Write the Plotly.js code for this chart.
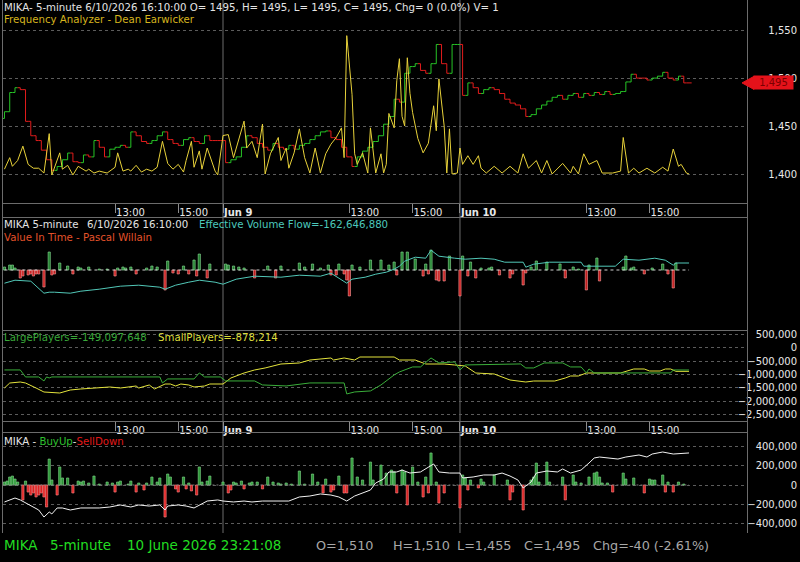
<!DOCTYPE html>
<html><head><meta charset="utf-8">
<script src="https://cdn.plot.ly/plotly-3.0.1.min.js"></script>
<style>html,body{margin:0;padding:0;background:#000;}#chart{width:800px;height:562px;}</style>
</head><body><div id="chart"></div>
<script>
// Time axis: bar index of 5-minute bars, 0 = Jun 9 09:00 (90 bars per session)
const tickIdx  = [-41, -17, 0, 48, 72, 90, 138, 162];
const tickText = ['13:00','15:00','<b>Jun 9</b>','13:00','15:00','<b>Jun 10</b>','13:00','15:00'];
const dayBreakIdx = [0, 90];

// Price closes, one value per 10 minutes starting at bar -83
const priceStartIdx = -83, priceStep = 2;
const priceClose = [1465,1485,1490,1488,1455,1440,1435,1425,1415,1404,
 1408,1415,1422,1413,1412,1420,1418,1435,1428,1418,
 1426,1428,1430,1428,1444,1440,1434,1432,1435,1440,
 1444,1436,1432,1430,1436,1438,1434,1432,1440,1435,
 1435,1435,1412,1415,1418,1428,1440,1438,1432,1428,
 1425,1432,1428,1426,1430,1426,1430,1432,1436,1440,
 1444,1445,1438,1436,1428,1418,1408,1418,1424,1428,
 1434,1440,1452,1460,1478,1475,1505,1512,1515,1508,
 1505,1515,1535,1515,1505,1535,1535,1482,1495,1490,
 1484,1488,1490,1488,1484,1478,1474,1472,1468,1460,
 1462,1468,1472,1476,1480,1482,1478,1482,1484,1480,
 1484,1482,1485,1483,1486,1483,1484,1486,1496,1504,
 1500,1500,1498,1500,1502,1506,1500,1498,1502,1495,
 1495];
const priceFirstOpen = 1458;
const lastPrice = 1495;

// Frequency Analyzer (Dean Earwicker)
const faIdx = [-83,-81,-80,-78,-76,-74,-72,-70,-68,-66,-65,-62,-61,-59,-57,-55,-52,-51,-49,-47,
 -44,-41,-40,-38,-36,-35,-33,-31,-29,-27,-25,-23,-21,-19,-17,-15,-14,-12,-11,-9,-8,-6,-3,-2,0,2,
 4,8,9,11,13,15,16,18,21,22,24,25,27,29,31,33,35,37,39,41,43,45,46,47,49,50,51,53,55,56,
 58,60,61,62,63,65,66,67,68,69,70,71,72,74,76,78,80,81,82,84,85,86,87,89,90,91,93,95,97,98,
 100,103,106,109,112,114,116,119,121,123,125,129,132,133,135,137,139,142,144,148,
 151,152,154,156,158,161,164,167,169,171,173,174,176,177];
const faVal = [6,18,9,15,30,11,7,7,2,43,0,23,6,10,0,9,4,6,2,4,
 2,8,23,4,6,4,10,3,6,4,8,35,12,6,11,3,15,35,8,25,6,28,4,0,41,42,
 18,56,28,35,18,53,1,22,39,15,28,7,23,48,18,2,28,2,22,32,39,49,18,145,84,22,11,23,2,49,
 2,22,2,11,64,49,98,121,61,51,122,85,65,38,23,33,72,46,100,51,2,48,1,2,28,11,20,11,20,7,
 2,9,2,9,2,22,7,15,2,15,1,12,2,9,1,22,11,15,2,2,
 4,39,2,7,2,7,2,8,4,27,9,11,2,1];

// Value In Time histogram (Pascal Willain)
const vitIdx = [-83,-81,-80,-79,-77,-76,-74,-73,-72,-71,-70,-68,-66,-65,-64,-62,-59,-57,-55,-54,
 -51,-47,-44,-41,-40,-38,-37,-35,-33,-29,-27,-25,-22,-21,-19,-17,-15,-13,-11,-10,
 -9,-6,-5,1,2,4,6,8,12,17,20,22,29,31,34,37,40,41,43,44,
 46,47,48,49,52,56,60,63,65,66,68,70,73,76,77,78,79,81,82,84,
 86,90,91,93,94,96,98,101,102,105,109,110,114,115,117,119,123,128,130,133,
 135,138,139,142,143,152,153,155,156,160,163,167,169,171,172];
const vitVal = [3,5,5,2,-8,-6,-5,-4,-6,-4,-4,-17,18,-5,-4,7,4,-4,3,2,
 3,1,1,-6,2,3,2,3,-4,2,4,3,-20,9,-3,-4,4,-4,10,-6,
 16,-8,6,6,5,4,3,2,-8,4,-8,4,7,3,6,2,5,-5,-5,6,
 -4,-10,-26,5,3,10,10,5,8,-5,18,18,11,-6,6,-4,20,-10,-11,-11,
 14,-26,14,-6,8,-8,2,2,3,-5,-8,-4,-15,-3,3,9,8,6,-8,3,
 1,-20,5,12,-11,3,14,2,3,-4,2,6,-4,-18,7];

// Effective Volume Flow (millions)
const evfIdx = [-83,-79,-73,-68,-66,-64,-58,-54,-47,-39,-32,-24,-22,-18,-13,-9,-3,0,5,12,
 22,29,37,41,47,49,54,58,62,65,67,69,73,77,79,82,88,92,98,103,
 107,114,115,118,124,136,137,141,149,152,158,164,168,171,172,177];
const evfVal = [-203,-197,-199,-223,-221,-221,-223,-219,-215,-209,-207,-211,-215,-207,-201,-197,-201,-205,-195,-189,
 -191,-187,-189,-183,-203,-195,-191,-185,-181,-175,-169,-159,-151,-153,-137,-149,-153,-155,-153,-155,
 -161,-161,-171,-165,-161,-161,-169,-169,-169,-155,-157,-153,-157,-167,-162.6,-162.6];

// SmallPlayers (thousands)
const smallIdx = [-83,-81,-77,-75,-71,-68,-62,-58,-54,-49,-43,-39,-35,-33,-32,-28,-26,-22,-20,-18,
 -16,-13,-11,-7,-5,0,3,8,12,16,22,29,33,37,41,42,46,50,52,60,
 65,67,73,77,84,88,92,96,100,103,109,115,118,126,130,132,135,138,151,156,
 160,162,166,168,170,172,177];
const smallValK = [-1502,-1315,-1277,-1315,-1502,-1652,-1689,-1577,-1539,-1502,-1464,-1502,-1464,-1427,-1502,-1389,-1539,-1352,-1352,-1427,
 -1352,-1389,-1464,-1427,-1352,-1352,-1127,-940,-827,-752,-603,-565,-453,-416,-378,-453,-378,-453,-341,-341,
 -341,-453,-453,-603,-603,-640,-677,-940,-977,-977,-1202,-1277,-1240,-1240,-1127,-1052,-1052,-940,-940,-790,
 -790,-865,-865,-790,-790,-878,-878];

// LargePlayers (millions)
const largeIdx = [-83,-77,-75,-70,-68,-67,-66,-65,-24,-23,-21,-11,-9,-7,-1,1,12,15,24,33,
 46,47,50,56,60,65,67,72,75,79,82,88,90,92,113,115,118,122,129,132,
 136,138,139,141,170,171,177];
const largeVal = [-149,-149,-163,-163,-171,-163,-165,-163,-163,-175,-167,-167,-155,-163,-163,-171,-171,-179,-181,-175,
 -175,-197,-193,-191,-179,-159,-153,-143,-143,-125,-135,-133,-149,-139,-137,-145,-145,-135,-135,-143,
 -143,-155,-147,-155,-155,-149,-149.1];

// BuyUp / SellDown histogram (thousands)
const buyIdx = [-83,-82,-81,-80,-79,-78,-76,-75,-74,-73,-72,-71,-70,-69,-68,-67,-66,-65,-63,-62,
 -61,-59,-57,-55,-54,-53,-51,-49,-47,-44,-42,-41,-40,-39,-36,-35,-33,-32,-30,-29,
 -27,-25,-24,-22,-21,-20,-18,-17,-15,-14,-13,-12,-10,-9,-8,-6,-5,0,2,3,
 4,5,7,8,10,11,13,15,17,19,21,22,24,26,29,31,34,36,38,39,
 41,42,44,46,47,49,51,53,56,57,60,62,64,65,66,68,69,70,72,74,
 76,77,78,79,81,82,84,90,91,92,93,94,97,98,99,103,108,109,110,114,
 117,118,119,120,123,124,129,130,133,134,136,139,141,142,143,144,146,148,152,153,
 156,160,162,163,164,167,168,169,171,173,175];
const buyValK = [31,41,83,93,62,31,-155,41,-73,-104,-83,-124,-104,-83,-124,-228,269,52,-104,187,
 73,73,-83,41,31,41,21,93,10,31,21,-73,31,41,10,41,-73,21,-52,21,
 83,31,73,-332,114,83,-41,-73,83,-41,21,-62,-104,187,31,41,93,31,-83,-52,
 31,21,41,-41,21,31,31,-41,83,31,21,10,21,10,145,10,114,31,-83,62,
 -73,-52,93,-83,-83,280,83,52,238,52,207,124,155,135,-83,155,135,-207,187,31,
 -124,83,-83,332,31,-187,-83,-238,104,73,-52,52,-31,62,31,104,52,-155,-73,-259,
 52,83,228,31,238,31,83,-155,104,31,21,83,124,135,83,21,21,-73,124,62,
 73,-83,62,52,52,104,-73,31,-73,31,10];

// Cumulative BuyUp-SellDown line (thousands)
const cumIdx = [-83,-79,-77,-75,-72,-70,-68,-66,-65,-63,-61,-58,-54,-51,-47,-43,-39,-35,-32,-28,
 -24,-22,-21,-17,-14,-11,-9,-6,-2,0,4,8,11,15,19,25,29,33,37,41,
 44,47,50,53,56,58,61,63,66,68,71,75,80,82,86,90,91,95,99,103,
 106,109,112,114,117,119,123,127,129,132,136,139,141,143,147,150,153,158,161,163,
 167,171,177];
const cumValK = [-176,-135,-155,-187,-228,-259,-332,-280,-300,-238,-238,-259,-238,-238,-238,-228,-207,-228,-207,-218,
 -207,-259,-218,-207,-218,-238,-207,-166,-155,-166,-176,-166,-176,-166,-166,-166,-124,-114,-93,-104,
 -124,-166,-114,-83,-52,21,62,135,135,155,124,135,218,135,124,124,73,83,104,104,
 124,93,52,-31,31,124,145,135,166,124,155,228,280,290,280,269,290,311,290,321,
 342,321,332];

// ---------- build ----------
const W = 800, H = 562;
const px = v => v / W, py = v => 1 - v / H;

const priceIdx = priceClose.map((_, k) => priceStartIdx + k * priceStep);
const priceOpen = priceClose.map((c, k) => k === 0 ? priceFirstOpen : priceClose[k - 1]);
const priceHigh = priceClose.map((c, k) => Math.max(c, priceOpen[k]));
const priceLow  = priceClose.map((c, k) => Math.min(c, priceOpen[k]));

const GREEN = '#26c426', RED = '#e21c1c';
const FONT = 'DejaVu Sans, Verdana, sans-serif';

const traces = [
  {type:'ohlc', x:priceIdx, open:priceOpen, high:priceHigh, low:priceLow, close:priceClose,
   xaxis:'x', yaxis:'y', tickwidth:0.5, hoverinfo:'skip',
   increasing:{line:{color:GREEN, width:1}}, decreasing:{line:{color:RED, width:1}}},
  {type:'scatter', mode:'lines', x:faIdx, y:faVal, xaxis:'x', yaxis:'y2',
   line:{color:'#e8d23a', width:1}, hoverinfo:'skip'},

  {type:'scatter', mode:'lines', x:[priceIdx[0], priceIdx[priceIdx.length-1]], y:[0,0], xaxis:'x2', yaxis:'y3',
   line:{color:'#d0d0d0', width:1, dash:'3px,3px'}, hoverinfo:'skip'},
  {type:'bar', x:vitIdx, y:vitVal, xaxis:'x2', yaxis:'y3', width:0.85, hoverinfo:'skip',
   marker:{color:vitVal.map(v => v >= 0 ? '#1f7c2c' : '#c41d1d'),
           line:{color:vitVal.map(v => v >= 0 ? '#8fe29a' : '#ff9a9a'), width:0.6}}},
  {type:'scatter', mode:'lines', x:evfIdx, y:evfVal, xaxis:'x2', yaxis:'y4',
   line:{color:'#52c8b8', width:1}, hoverinfo:'skip'},

  {type:'scatter', mode:'lines', x:largeIdx, y:largeVal, xaxis:'x3', yaxis:'y6',
   line:{color:'#3aae3a', width:1, shape:'linear'}, hoverinfo:'skip'},
  {type:'scatter', mode:'lines', x:smallIdx, y:smallValK.map(v => v * 1000), xaxis:'x3', yaxis:'y5',
   line:{color:'#e4e43c', width:1}, hoverinfo:'skip'},

  {type:'scatter', mode:'lines', x:[priceIdx[0], priceIdx[priceIdx.length-1]], y:[0,0], xaxis:'x4', yaxis:'y7',
   line:{color:'#777', width:1, dash:'2px,2px'}, hoverinfo:'skip'},
  {type:'bar', x:buyIdx, y:buyValK.map(v => v * 1000), xaxis:'x4', yaxis:'y7', width:0.85, hoverinfo:'skip',
   marker:{color:buyValK.map(v => v >= 0 ? '#2b9636' : '#dc2020'),
           line:{color:buyValK.map(v => v >= 0 ? '#86dc8e' : '#ff8a8a'), width:0.6}}},
  {type:'scatter', mode:'lines', x:cumIdx, y:cumValK.map(v => v * 1000), xaxis:'x4', yaxis:'y7',
   line:{color:'#f2f2f2', width:1}, hoverinfo:'skip'}
];

const xRange = [(3 - 223) / 2.633, (747 - 223) / 2.633];
const xBase = {range:xRange, domain:[px(3), px(747)], showgrid:false, zeroline:false,
  fixedrange:true, rangeslider:{visible:false}};
const xLabeled = Object.assign({}, xBase, {
  tickmode:'array', tickvals:tickIdx, ticktext:tickText, ticks:'outside', ticklen:9,
  tickcolor:'#8c8c8c', tickwidth:1, showline:true, linecolor:'#6c6c6c', linewidth:1,
  ticklabelposition:'outside right', tickfont:{family:FONT, size:10, color:'#e8e8e8'}});
const xPlain = Object.assign({}, xBase, {showticklabels:false, ticks:'', showline:false});

const yLabeled = (domain, range, dtick, tick0) => ({
  domain, range, dtick, tick0, tickformat:',', anchor:'free', position:px(797), side:'left',
  ticks:'', showline:false, zeroline:false, showgrid:true, gridcolor:'#5c5c5c', griddash:'dot',
  gridwidth:1, tickfont:{family:FONT, size:10, color:'#e8e8e8'}, fixedrange:true});

const layout = {
  width:W, height:H, margin:{l:0, r:0, t:0, b:0}, paper_bgcolor:'#000', plot_bgcolor:'#000',
  showlegend:false, separators:'.,', font:{family:FONT, size:10, color:'#e8e8e8'}, bargap:0,
  xaxis: Object.assign({}, xLabeled, {anchor:'y'}),
  xaxis2: Object.assign({}, xPlain, {anchor:'y3', matches:'x'}),
  xaxis3: Object.assign({}, xLabeled, {anchor:'y5', matches:'x'}),
  xaxis4: Object.assign({}, xPlain, {anchor:'y7', matches:'x'}),
  yaxis: yLabeled([py(203), py(2)], [1370, 1579.2], 50, 1400),
  yaxis2: {overlaying:'y', range:[-29.2, 180], visible:false, fixedrange:true},
  yaxis3: {domain:[py(330), py(218)], range:[-60, 52], visible:false, fixedrange:true},
  yaxis4: {overlaying:'y3', range:[-296.6, -72.6], visible:false, fixedrange:true},
  yaxis5: yLabeled([py(421), py(331)], [-2737800, 633000], 500000, 0),
  yaxis6: {overlaying:'y5', range:[-251.1, -71.1], visible:false, fixedrange:true},
  yaxis7: yLabeled([py(531), py(433)], [-476700, 538900], 200000, 0),
  shapes: [],
  annotations: []
};

// panel frames
const frame = '#6c6c6c';
const L = (x0,y0,x1,y1,color) => ({type:'line', xref:'paper', yref:'paper',
  x0:px(x0), y0:py(y0), x1:px(x1), y1:py(y1), line:{color:color||frame, width:1}, layer:'above'});
layout.shapes.push(L(2.5,0,2.5,533), L(747.5,0,747.5,533),
  L(2,217.5,748,217.5), L(2,330.5,748,330.5), L(2,432.5,748,432.5));
// session separators
dayBreakIdx.forEach(d => layout.shapes.push({type:'line', xref:'x', yref:'paper',
  x0:d, x1:d, y0:py(533), y1:1, line:{color:'#6c6c6c', width:1}, layer:'below'}));
// last price marker (arrow tip)
const hh = 6.8;
layout.shapes.push({type:'path', xref:'paper', yref:'y', layer:'above',
  path:`M ${px(742)} ${lastPrice} L ${px(754)} ${lastPrice+hh} L ${px(754)} ${lastPrice-hh} Z`,
  fillcolor:'#e4121a', line:{color:'#e4121a', width:1}});

const HF = 10.2, BF = 13.5, GF = 12.8;
const A = (x, y, text, color, size, extra) => Object.assign({
  xref:'paper', yref:'paper', x:px(x), y:py(y), text, showarrow:false,
  xanchor:'left', yanchor:'middle', font:{family:FONT, size:size||HF, color}, borderpad:0}, extra||{});

layout.annotations.push(
  A(3, 8, 'MIKA- 5-minute 6/10/2026 16:10:00 O= 1495, H= 1495, L= 1495, C= 1495, Chg= 0 (0.0%) V= 1', '#e4e4e4'),
  A(3, 20, 'Frequency Analyzer - Dean Earwicker', '#d6b41e'),
  A(3, 224, 'MIKA 5-minute', '#e4e4e4'),
  A(86, 224, '6/10/2026 16:10:00', '#e4e4e4'),
  A(198, 224, 'Effective Volume Flow=-162,646,880', '#4cc8bc'),
  A(3, 237, 'Value In Time - Pascal Willain', '#e4522a'),
  A(3, 337, 'LargePlayers=-149,097,648', '#3aa83a'),
  A(157, 337, 'SmallPlayers=-878,214', '#dede3c'),
  A(3, 441, 'MIKA - <span style="color:#2fc02f">BuyUp</span>-<span style="color:#e01818">SellDown</span>', '#e4e4e4'),
  A(3, 545, 'MIKA', '#22dd22', BF),
  A(49, 545, '5-minute', '#22dd22', BF),
  A(126, 545, '10 June 2026 23:21:08', '#22dd22', BF),
  A(315, 545, 'O=1,510', '#a8a8a8', GF),
  A(392, 545, 'H=1,510', '#a8a8a8', GF),
  A(456, 545, 'L=1,455', '#a8a8a8', GF),
  A(523, 545, 'C=1,495', '#a8a8a8', GF),
  A(592, 545, 'Chg=-40 (-2.61%)', '#a8a8a8', GF),
  {xref:'paper', yref:'y', x:px(773), y:lastPrice, text:lastPrice.toLocaleString('en-US'),
   showarrow:false, xanchor:'center', yanchor:'middle', width:39, height:13, bgcolor:'#e4121a',
   borderpad:0, font:{family:FONT, size:10, color:'#7a0000'}}
);

Plotly.newPlot('chart', traces, layout, {staticPlot:true, displayModeBar:false});
</script>
</body></html>
